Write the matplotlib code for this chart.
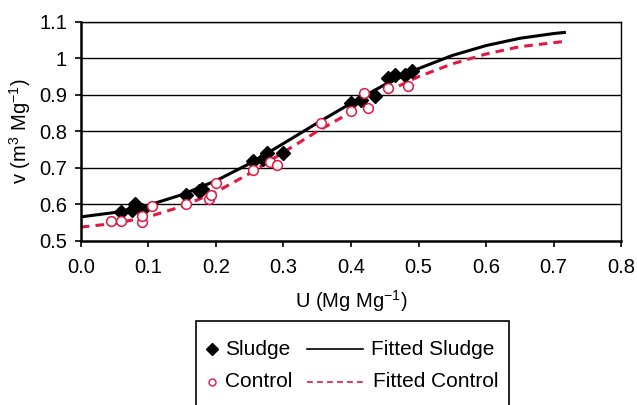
import matplotlib
matplotlib.use("Agg")
import matplotlib.pyplot as plt
from matplotlib.lines import Line2D
from matplotlib.patches import Rectangle

plt.rcParams["font.family"] = ["Liberation Sans", "DejaVu Sans"]
plt.rcParams["mathtext.default"] = "regular"

# measured points
sludge_u = [0.060, 0.075, 0.080, 0.090, 0.155, 0.175, 0.180, 0.255, 0.270, 0.275,
            0.300, 0.400, 0.415, 0.435, 0.455, 0.465, 0.480, 0.490]
sludge_v = [0.580, 0.585, 0.600, 0.585, 0.625, 0.638, 0.642, 0.720, 0.725, 0.740,
            0.740, 0.877, 0.885, 0.897, 0.945, 0.955, 0.955, 0.965]

control_u = [0.045, 0.060, 0.090, 0.090, 0.105, 0.155, 0.190, 0.192, 0.200, 0.255,
             0.280, 0.290, 0.355, 0.400, 0.420, 0.425, 0.455, 0.485]
control_v = [0.555, 0.555, 0.553, 0.568, 0.595, 0.601, 0.615, 0.625, 0.660, 0.695,
             0.715, 0.708, 0.822, 0.855, 0.905, 0.865, 0.920, 0.925]

# fitted curves
fit_s_u = [0.0, 0.05, 0.10, 0.15, 0.20, 0.25, 0.30, 0.35, 0.40, 0.45, 0.50,
           0.55, 0.60, 0.65, 0.70, 0.716]
fit_s_v = [0.566, 0.578, 0.598, 0.627, 0.665, 0.712, 0.767, 0.823, 0.877, 0.928,
           0.972, 1.008, 1.035, 1.055, 1.068, 1.071]
fit_c_u = [0.0, 0.05, 0.10, 0.15, 0.20, 0.25, 0.30, 0.35, 0.40, 0.45, 0.50,
           0.55, 0.60, 0.65, 0.70, 0.718]
fit_c_v = [0.538, 0.548, 0.566, 0.595, 0.634, 0.685, 0.743, 0.800, 0.853, 0.906,
           0.950, 0.985, 1.012, 1.032, 1.043, 1.047]

red = "#e3173f"
fs = 14.5

fig = plt.figure(figsize=(6.37, 4.05), dpi=100)
ax = fig.add_axes([0.127, 0.405, 0.848, 0.541])

for y in [0.6, 0.7, 0.8, 0.9, 1.0, 1.1]:
    ax.axhline(y, color="black", linewidth=1.0, zorder=0)

ax.plot(fit_s_u, fit_s_v, color="black", linewidth=2.2, zorder=2)
ax.plot(fit_c_u, fit_c_v, color=red, linewidth=2.2, linestyle=(0, (2.8, 2.0)), zorder=2)
ax.plot(sludge_u, sludge_v, linestyle="none", marker="D", markersize=7.5,
        color="black", zorder=3)
ax.plot(control_u, control_v, linestyle="none", marker="o", markersize=7,
        markerfacecolor="white", markeredgecolor=red, markeredgewidth=1.1, zorder=4)

ax.set_xlim(0, 0.8)
ax.set_ylim(0.5, 1.1)
ax.set_xticks([0.0, 0.1, 0.2, 0.3, 0.4, 0.5, 0.6, 0.7, 0.8])
ax.set_xticklabels(["0.0", "0.1", "0.2", "0.3", "0.4", "0.5", "0.6", "0.7", "0.8"])
ax.set_yticks([0.5, 0.6, 0.7, 0.8, 0.9, 1.0, 1.1])
ax.set_yticklabels(["0.5", "0.6", "0.7", "0.8", "0.9", "1", "1.1"])
ax.tick_params(labelsize=fs, direction="out", length=4, width=1.2)
ax.tick_params(axis="x", pad=8)
ax.tick_params(axis="y", pad=6)

for side in ["top", "right"]:
    ax.spines[side].set_linewidth(1.0)
for side in ["left", "bottom"]:
    ax.spines[side].set_linewidth(1.8)

ax.set_xlabel("U (Mg Mg$^{-1}$)", fontsize=fs, labelpad=8)
ax.set_ylabel("v (m$^3$ Mg$^{-1}$)", fontsize=fs, labelpad=4)

# legend box drawn by hand (columns have different handle widths)
fig.patches.append(Rectangle((0.3077, -0.05), 0.491, 0.2574, transform=fig.transFigure,
                             facecolor="white", edgecolor="black", linewidth=1.2))
row1, row2 = 0.138, 0.057
fig.add_artist(Line2D([0.333], [row1], transform=fig.transFigure, marker="D",
                      markersize=6, color="black", linestyle="none"))
fig.add_artist(Line2D([0.333], [row2], transform=fig.transFigure, marker="o",
                      markersize=5, markerfacecolor="white", markeredgecolor=red,
                      markeredgewidth=1.0, linestyle="none"))
fig.add_artist(Line2D([0.482, 0.570], [row1, row1], transform=fig.transFigure,
                      color="black", linewidth=1.2))
fig.add_artist(Line2D([0.482, 0.570], [row2, row2], transform=fig.transFigure,
                      color=red, linewidth=1.2, linestyle=(0, (3.5, 2.5))))
fig.text(0.353, row1, "Sludge", fontsize=15, va="center")
fig.text(0.353, row2, "Control", fontsize=15, va="center")
fig.text(0.582, row1, "Fitted Sludge", fontsize=15, va="center")
fig.text(0.586, row2, "Fitted Control", fontsize=15, va="center")

fig.savefig("out.png", dpi=100)
